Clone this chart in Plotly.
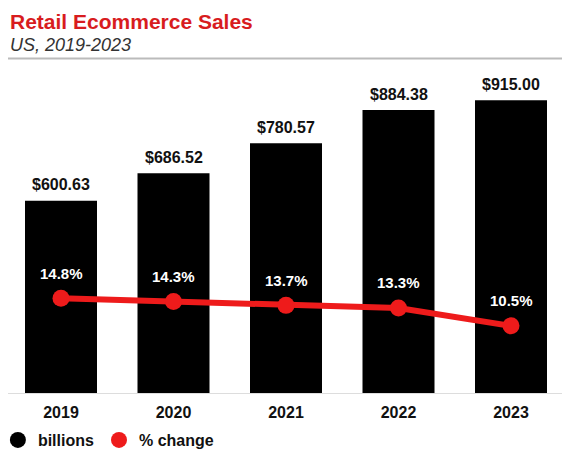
import plotly.graph_objects as go

years = ["2019", "2020", "2021", "2022", "2023"]
sales_billions = [600.63, 686.52, 780.57, 884.38, 915.00]
pct_change = [14.8, 14.3, 13.7, 13.3, 10.5]
sales_labels = ["$600.63", "$686.52", "$780.57", "$884.38", "$915.00"]
pct_labels = ["14.8%", "14.3%", "13.7%", "13.3%", "10.5%"]

RED = "#ee1b1b"
FONT = "Liberation Sans"

fig = go.Figure()

fig.add_trace(go.Bar(
    x=years, y=sales_billions, name="billions",
    marker=dict(color="#000000", line=dict(width=0)),
    cliponaxis=False, showlegend=False,
))

fig.add_trace(go.Scatter(
    x=years, y=pct_change, name="% change", yaxis="y2",
    mode="lines+markers",
    line=dict(color=RED, width=6),
    marker=dict(color=RED, size=17),
    cliponaxis=False, showlegend=False,
))

# legend entries
fig.add_trace(go.Scatter(
    x=[None], y=[None], name="billions", mode="markers",
    marker=dict(color="#000000", size=16, symbol="circle"),
))
fig.add_trace(go.Scatter(
    x=[None], y=[None], name="% change", mode="markers",
    marker=dict(color=RED, size=16, symbol="circle"),
))

bar_annotations = [
    dict(x=i, y=v, xref="x", yref="y", text=lbl, showarrow=False,
         yshift=16, xanchor="center", yanchor="middle",
         font=dict(family=FONT, size=16, color="#111111", weight="bold"))
    for i, (v, lbl) in enumerate(zip(sales_billions, sales_labels))
]
pct_annotations = [
    dict(x=i, y=v, xref="x", yref="y2", text=lbl, showarrow=False,
         yshift=25, xanchor="center", yanchor="middle",
         font=dict(family=FONT, size=15, color="#ffffff", weight="bold"))
    for i, (v, lbl) in enumerate(zip(pct_change, pct_labels))
]

fig.update_layout(
    width=562, height=445,
    margin=dict(l=0, r=0, t=62, b=60, autoexpand=False),
    paper_bgcolor="white", plot_bgcolor="white",
    bargap=0.36,
    font=dict(family=FONT, color="#111111"),
    xaxis=dict(
        type="category", categoryorder="array", categoryarray=years,
        range=[-0.4711, 4.5244],
        showgrid=False, zeroline=False,
        showline=True, linecolor="#dddddd", linewidth=1,
        ticks="", ticklabelstandoff=5,
        tickfont=dict(family=FONT, size=16, color="#111111", weight="bold"),
    ),
    yaxis=dict(visible=False, range=[0, 1009.4], fixedrange=True),
    yaxis2=dict(visible=False, range=[0, 50.5], overlaying="y", fixedrange=True),
    legend=dict(
        orientation="h", x=-0.018, xanchor="left", y=-0.1455, yanchor="middle",
        font=dict(family=FONT, size=16, color="#111111", weight="bold"),
        itemsizing="trace",
    ),
    annotations=[
        dict(text="Retail Ecommerce Sales", xref="paper", yref="paper",
             x=0, y=1.1920, xanchor="left", yanchor="top", showarrow=False,
             font=dict(family=FONT, size=21, color="#d81c1e", weight="bold")),
        dict(text="US, 2019-2023", xref="paper", yref="paper",
             x=0, y=1.0760, xanchor="left", yanchor="middle", showarrow=False,
             font=dict(family=FONT, size=18, color="#333333", style="italic")),
    ] + bar_annotations + pct_annotations,
    shapes=[
        dict(type="line", xref="paper", yref="paper", x0=0, x1=0.9947,
             y0=1.0356, y1=1.0356, line=dict(color="#bbbbbb", width=2)),
    ],
)

fig.write_html("out.html")
